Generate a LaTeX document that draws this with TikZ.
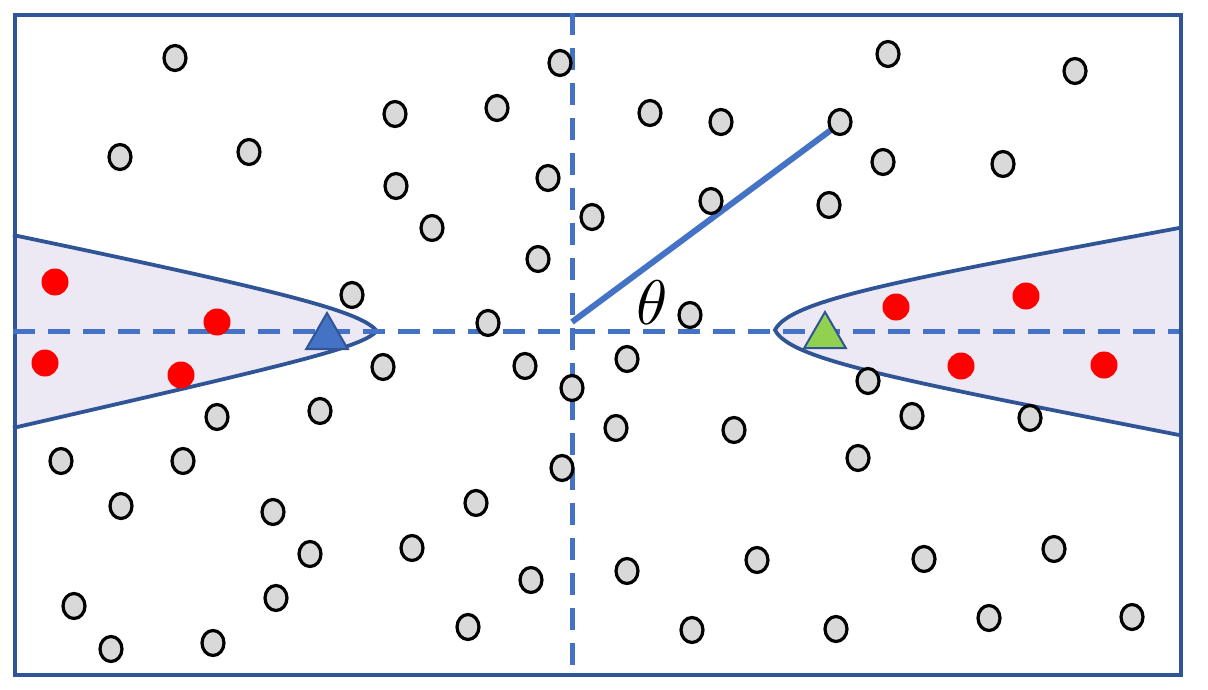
\documentclass[tikz,border=0pt]{standalone}
\usetikzlibrary{shapes.geometric}
\definecolor{framec}{RGB}{47,85,151}
\definecolor{dashc}{RGB}{68,114,196}
\definecolor{regionc}{RGB}{236,232,244}
\definecolor{dotgray}{RGB}{217,217,217}
\definecolor{dotred}{RGB}{255,0,0}
\definecolor{trigreen}{RGB}{146,208,80}
\tikzset{
  gdot/.style={ellipse,draw=black,fill=dotgray,line width=3.2pt,minimum width=22pt,minimum height=25pt,inner sep=0pt},
  rdot/.style={circle,fill=dotred,minimum size=27pt,inner sep=0pt},
  tri/.style={regular polygon,regular polygon sides=3,draw=framec,line width=2pt,minimum size=48pt,inner sep=0pt},
  axisline/.style={draw=dashc,line width=5pt,dash pattern=on 22pt off 13pt},
  framebox/.style={draw=framec,line width=3.8pt},
  region/.style={draw=framec,fill=regionc,line width=3.8pt},
  angleline/.style={draw=dashc,line width=6pt}
}
\begin{document}
\begin{tikzpicture}[x=1pt,y=-1pt]
\useasboundingbox (0,0) rectangle (1208,690);
% shaded regions
\path[region] (13,235) .. controls (300,295) and (360,312) .. (377,331)
  .. controls (360,348) and (300,362) .. (13,428);
\path[region] (1179,228) .. controls (900,280) and (790,300) .. (775,330)
  .. controls (790,360) and (900,380) .. (1179,435);
% frame
\node[framebox,rectangle,minimum width=1166pt,minimum height=660pt,inner sep=0pt,anchor=north west] (frame) at (13,13) {};
% axes
\coordinate (hl) at (13,331);
\coordinate (hr) at (1179,331);
\coordinate (vt) at (572,13);
\coordinate (vb) at (572,673);
\coordinate (o) at (572,322);
\coordinate (p) at (835,127);
\draw[axisline] (hl) -- (hr);
\draw[axisline] (vt) -- (vb);
\draw[angleline] (o) -- (p);
\node[scale=6.3] (theta) at (652,303) {$\theta$};
% gray dots
\foreach \x/\y [count=\i] in {
175/58, 560/63, 888/54, 1075/71,
395/114, 497/108, 650/113, 721/122, 840/122,
120/157, 249/152, 548/178, 883/162, 1003/164,
396/186, 592/217, 711/201, 829/205,
432/228, 538/259,
352/295, 488/323, 690/315,
383/367, 525/366, 627/359, 572/388,
868/381, 912/416, 1030/418,
217/417, 320/411, 616/428, 734/430,
61/461, 183/461, 562/468, 858/458,
121/506, 273/512, 476/503,
310/554, 412/548, 757/560, 924/559, 1054/549,
627/571, 531/580,
74/606, 276/598, 468/627, 692/630, 836/629, 989/618, 1132/617,
111/649, 213/643}
  \node[gdot] (g\i) at (\x,\y) {};
% red dots
\foreach \x/\y [count=\i] in {55/282, 217/322, 45/363, 181/375, 896/307, 1026/296, 961/366, 1104/365}
  \node[rdot] (r\i) at (\x,\y) {};
% triangles
\node[tri,fill=dashc] (bt) at (327,337) {};
\node[tri,fill=trigreen] (gt) at (825,336) {};
\end{tikzpicture}
\end{document}
